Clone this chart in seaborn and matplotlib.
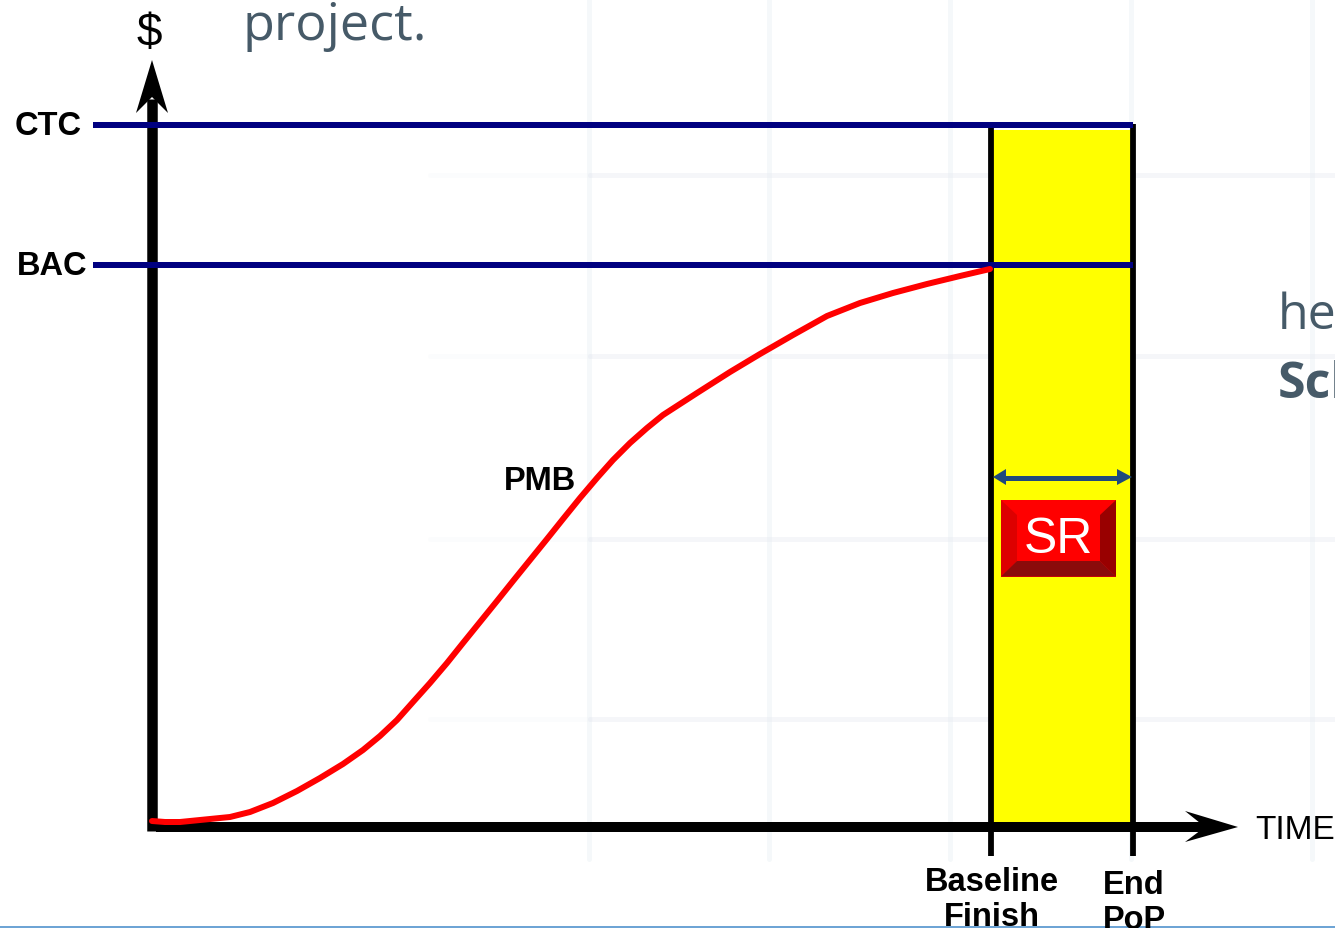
"""Schedule reserve diagram: PMB curve with CTC and BAC levels."""

import matplotlib

matplotlib.use("Agg")

import matplotlib.pyplot as plt
import pandas as pd
import seaborn as sns
from matplotlib.patches import Polygon, Rectangle

# picture coordinates
PMB_X = [152, 165, 180, 200, 230, 250, 273, 297, 320, 343, 363, 380, 397, 413, 430,
         447, 463, 480, 497, 513, 530, 547, 563, 580, 597, 613, 630, 647, 663, 680,
         697, 730, 760, 793, 827, 860, 893, 927, 960, 990]
PMB_Y = [822, 823, 823, 821, 818, 813, 804, 792, 779, 765, 751, 737, 721, 703, 684,
         664, 644, 623, 602, 582, 561, 540, 520, 499, 479, 461, 444, 429, 416, 405,
         394, 373, 355, 336, 317, 304, 294, 285, 277, 270]
LEVEL_NAMES = ["CTC", "BAC"]
LEVEL_VALUES = [125.5, 265.5]
BASELINE_FINISH = 991
END_POP = 1133
GRID_X = [589, 769, 950, 1131, 1312]
GRID_Y = [176, 357, 540, 720]

W, H = 1335, 929
NAVY = "#000080"
SLATE = "#465a68"
BOLD = dict(fontsize=23.5, fontweight="bold", color="black", ha="center", va="center")

sns.set_theme(style="white")
plt.rcParams["font.family"] = ["Liberation Sans", "DejaVu Sans"]

fig = plt.figure(figsize=(W / 100, H / 100), dpi=100)
ax = fig.add_axes([0, 0, 1, 1])
ax.set_xlim(0, W)
ax.set_ylim(H, 0)
ax.axis("off")


def px(n):
    return n * 0.72


# faint slide background
for x in GRID_X:
    ax.plot([x, x], [0, 860], color="#e6eef4", lw=px(5), alpha=0.4, zorder=0)
for y in GRID_Y:
    ax.plot([590, W], [y, y], color="#e6e9f1", lw=px(5), alpha=0.4, zorder=0)
    ax.plot([430, 590], [y, y], color="#e6e9f1", lw=px(5), alpha=0.12, zorder=0)
ax.plot([0, W], [928, 928], color="#3f86c8", lw=px(1.5), zorder=1)

# schedule reserve band
ax.add_patch(Rectangle((BASELINE_FINISH, 131), END_POP - BASELINE_FINISH, 694,
                       facecolor="#ffff00", edgecolor="none", zorder=2))
for x in [BASELINE_FINISH, END_POP]:
    ax.plot([x, x], [125, 857], color="black", lw=px(5.8), solid_capstyle="butt", zorder=3)

# axes with arrows
ax.plot([151.5, 151.5], [832, 100], color="black", lw=px(10.5), solid_capstyle="butt", zorder=3)
ax.plot([156, 1205], [827.5, 827.5], color="black", lw=px(10), solid_capstyle="butt", zorder=3)
ax.add_patch(Polygon([(152, 61), (168, 114), (152, 98), (136, 114)], facecolor="black",
                     edgecolor="none", zorder=3))
ax.add_patch(Polygon([(1238, 828), (1185, 843), (1205, 828), (1185, 812)], facecolor="black",
                     edgecolor="none", zorder=3))

# CTC and BAC levels
for name, y in zip(LEVEL_NAMES, LEVEL_VALUES):
    ax.plot([93, END_POP], [y, y], color=NAVY, lw=px(6), solid_capstyle="butt", zorder=4)
ax.text(48, 126, "CTC", **BOLD)
ax.text(52, 266, "BAC", **BOLD)

# PMB curve
pmb = pd.DataFrame({"x": PMB_X, "y": PMB_Y})
sns.lineplot(data=pmb, x="x", y="y", color="#ff0000", lw=px(6), sort=False, ax=ax, zorder=5)
ax.set_xlim(0, W)
ax.set_ylim(H, 0)
ax.text(540, 481, "PMB", **BOLD)

# reserve span arrow
ax.plot([1004, 1120], [478.5, 478.5], color="#1f497d", lw=px(5), solid_capstyle="butt", zorder=6)
ax.add_patch(Polygon([(993, 478), (1006, 470), (1006, 486)], facecolor="#1f497d",
                     edgecolor="none", zorder=6))
ax.add_patch(Polygon([(1132, 478), (1117, 470), (1117, 486)], facecolor="#1f497d",
                     edgecolor="none", zorder=6))

# SR button
ax.add_patch(Rectangle((1001, 501), 115, 76.5, facecolor="#ff0000", edgecolor="none", zorder=6))
ax.add_patch(Polygon([(1001, 501), (1017, 516), (1017, 562), (1001, 577.5)], facecolor="#dd0000",
                     edgecolor="none", zorder=7))
ax.add_patch(Polygon([(1116, 501), (1100, 516), (1100, 562), (1116, 577.5)], facecolor="#990000",
                     edgecolor="none", zorder=7))
ax.add_patch(Polygon([(1001, 577.5), (1017, 562), (1100, 562), (1116, 577.5)], facecolor="#8b0b0b",
                     edgecolor="none", zorder=7))
ax.text(1058, 540, "SR", fontsize=36, color="white", ha="center", va="center", zorder=8)

# axis labels
ax.text(149, 34, "$", fontsize=33, color="black", ha="center", va="center", parse_math=False)
ax.text(1295, 831, "TIME", fontsize=24, color="black", ha="center", va="center")
ax.text(992, 883, "Baseline", **BOLD)
ax.text(992, 918, "Finish", **BOLD)
ax.text(1134, 886, "End", **BOLD)
ax.text(1134, 921, "PoP", **BOLD)

# leftover slide text behind the chart
ax.text(335, 26, "project.", fontsize=37.5, color=SLATE, family="Open Sans", ha="center", va="center")
ax.text(1278, 316, "he", fontsize=36, color=SLATE, family="Open Sans", ha="left", va="center")
ax.text(1278, 385, "Sch", fontsize=36, color=SLATE, family="Open Sans", fontweight="bold",
        ha="left", va="center")

fig.savefig("out.png", dpi=100)
plt.close(fig)
